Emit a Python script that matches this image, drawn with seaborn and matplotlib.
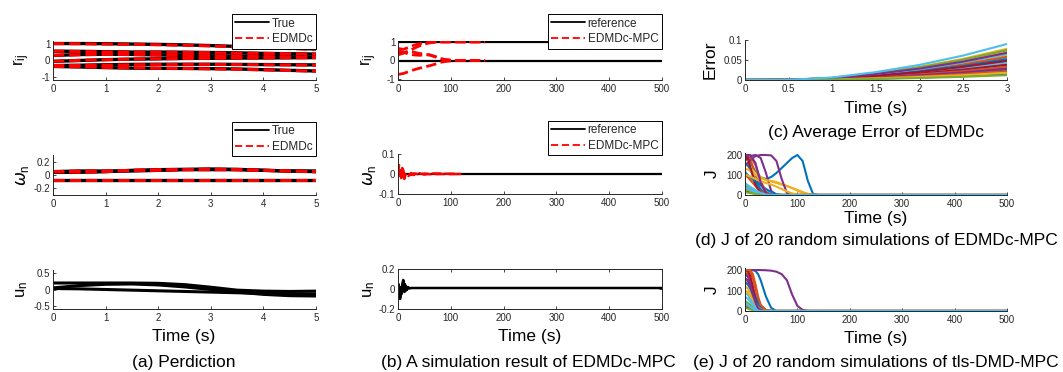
import pandas as pd
import seaborn as sns
import matplotlib.pyplot as plt
from matplotlib.lines import Line2D
from matplotlib.ticker import FormatStrFormatter

# ---------------- (a) prediction ----------------
a_time = [0, 0.5, 1, 1.5, 2, 2.5, 3, 3.5, 4, 4.5, 5]
r_true = [
    [1.0, 1.0, 0.99, 0.97, 0.95, 0.92, 0.88, 0.83, 0.78, 0.73, 0.68],
    [0.55, 0.54, 0.52, 0.5, 0.5, 0.49, 0.47, 0.45, 0.42, 0.4, 0.38],
    [0.3, 0.35, 0.37, 0.36, 0.33, 0.3, 0.28, 0.26, 0.24, 0.22, 0.2],
    [-0.05, 0.0, 0.05, 0.08, 0.1, 0.12, 0.13, 0.14, 0.15, 0.16, 0.17],
    [-0.3, -0.28, -0.25, -0.23, -0.22, -0.22, -0.22, -0.23, -0.24, -0.25, -0.26],
    [-0.35, -0.38, -0.42, -0.45, -0.46, -0.47, -0.48, -0.5, -0.54, -0.58, -0.62],
]
r_edmdc = [
    [1.0, 0.99, 0.97, 0.95, 0.93, 0.9, 0.86, 0.8, 0.76, 0.7, 0.66],
    [0.55, 0.53, 0.51, 0.5, 0.49, 0.48, 0.46, 0.44, 0.42, 0.4, 0.37],
    [0.3, 0.34, 0.36, 0.35, 0.32, 0.3, 0.28, 0.25, 0.23, 0.21, 0.19],
    [-0.05, 0.01, 0.05, 0.08, 0.1, 0.12, 0.13, 0.14, 0.15, 0.16, 0.17],
    [-0.3, -0.29, -0.27, -0.25, -0.24, -0.23, -0.23, -0.24, -0.25, -0.26, -0.27],
    [-0.35, -0.37, -0.41, -0.44, -0.46, -0.47, -0.49, -0.52, -0.55, -0.59, -0.62],
]
w_true = [
    [0.04, 0.04, 0.05, 0.07, 0.08, 0.085, 0.09, 0.085, 0.07, 0.06, 0.05],
    [0.05, 0.06, 0.06, 0.06, 0.07, 0.08, 0.08, 0.08, 0.07, 0.06, 0.06],
    [-0.07, -0.07, -0.07, -0.07, -0.07, -0.07, -0.07, -0.07, -0.07, -0.07, -0.07],
]
w_edmdc = [
    [0.05, 0.04, 0.05, 0.07, 0.08, 0.08, 0.09, 0.08, 0.07, 0.06, 0.05],
    [0.05, 0.06, 0.06, 0.07, 0.07, 0.08, 0.08, 0.08, 0.07, 0.06, 0.05],
    [-0.07, -0.07, -0.07, -0.07, -0.07, -0.07, -0.07, -0.07, -0.07, -0.07, -0.07],
]
u_pred = [
    [0.2, 0.2, 0.2, 0.2, 0.19, 0.15, 0.07, -0.02, -0.05, -0.06, -0.05],
    [0.05, 0.12, 0.16, 0.17, 0.14, 0.08, 0.0, -0.08, -0.15, -0.19, -0.2],
    [0.03, 0.02, 0.0, -0.02, -0.04, -0.06, -0.08, -0.1, -0.12, -0.13, -0.14],
]

# ---------------- (b) EDMDc-MPC simulation ----------------
b_ref_time = [0, 500]
r_ref = [[1, 1], [0, 0]]
w_ref = [[0, 0]]
b_r_time = [0, 10, 20, 30, 40, 50, 60, 70, 80, 90, 100, 110, 120, 140, 165]
r_mpc = [
    [0.65, 0.6, 0.7, 0.82, 0.9, 0.95, 0.98, 1.0, 1.0, 1.0, 1.0, 1.0, 1.0, 1.0, 1.0],
    [0.5, 0.4, 0.5, 0.65, 0.78, 0.88, 0.95, 0.98, 1.0, 1.0, 1.0, 1.0, 1.0, 1.0, 1.0],
    [0.3, 0.4, 0.5, 0.45, 0.38, 0.35, 0.3, 0.2, 0.1, 0.05, 0.02, 0.0, 0.0, 0.0, 0.0],
    [0.55, 0.45, 0.35, 0.3, 0.28, 0.3, 0.3, 0.22, 0.1, 0.04, 0.01, 0.0, 0.0, 0.0, 0.0],
    [-0.75, -0.7, -0.6, -0.5, -0.42, -0.35, -0.28, -0.2, -0.1, -0.05, -0.02, 0.0, 0.0, 0.0, 0.0],
]
b_w_time = [0, 2, 4, 6, 8, 10, 12, 15, 20, 25, 30, 40, 50, 60, 80, 100, 120]
w_mpc = [
    [0, 0.045, 0.02, -0.02, 0.03, -0.01, -0.025, 0.005, -0.01, 0.005, -0.005, 0.004, -0.003, 0.003, 0.002, 0.001, 0],
    [0, -0.01, 0.03, 0.01, -0.015, 0.02, -0.01, 0.0, 0.005, -0.005, 0.003, -0.002, 0.002, -0.001, 0, 0, 0],
]
b_u_time = [0, 1, 2, 3, 4, 5, 6, 7, 8, 9, 10, 11, 12, 13, 14, 15, 17, 19, 22, 25, 500]
u_mpc = [[0.0, 0.05, -0.06, -0.09, -0.1, -0.08, 0.02, -0.05, 0.05, 0.07, 0.09,
          0.06, -0.03, 0.05, -0.02, 0.03, -0.01, 0.02, 0.005, 0.01, 0.01]]

# ---------------- (c) average error ----------------
c_time = [0, 0.5, 1, 1.5, 2, 2.5, 3]
err_runs = [
    [0, 0.0002, 0.002, 0.007, 0.013, 0.020, 0.030],
    [0, 0.0002, 0.003, 0.010, 0.019, 0.031, 0.045],
    [0, 0.0003, 0.004, 0.014, 0.026, 0.042, 0.062],
    [0, 0.0002, 0.003, 0.009, 0.017, 0.027, 0.040],
    [0, 0.0001, 0.001, 0.004, 0.008, 0.013, 0.020],
    [0, 0.0003, 0.004, 0.012, 0.023, 0.037, 0.055],
    [0, 0.0004, 0.005, 0.016, 0.030, 0.049, 0.072],
    [0, 0.0001, 0.002, 0.006, 0.011, 0.017, 0.025],
    [0, 0.0003, 0.004, 0.013, 0.024, 0.039, 0.058],
    [0, 0.0004, 0.005, 0.017, 0.033, 0.053, 0.078],
    [0, 0.0003, 0.0035, 0.011, 0.021, 0.034, 0.050],
    [0, 0.0002, 0.0025, 0.008, 0.015, 0.024, 0.035],
    [0, 0.0002, 0.003, 0.0095, 0.018, 0.029, 0.043],
    [0, 0.0002, 0.0027, 0.0084, 0.016, 0.026, 0.038],
    [0, 0.0003, 0.0036, 0.0115, 0.022, 0.035, 0.052],
    [0, 0.0002, 0.0023, 0.0073, 0.014, 0.022, 0.033],
    [0, 0.0004, 0.0049, 0.0154, 0.029, 0.048, 0.070],
    [0, 0.0001, 0.002, 0.0062, 0.012, 0.019, 0.028],
    [0, 0.0004, 0.0052, 0.0165, 0.0315, 0.051, 0.075],
    [0, 0.0003, 0.0045, 0.0143, 0.027, 0.044, 0.065],
    [0, 0.0002, 0.0034, 0.0106, 0.020, 0.033, 0.048],
    [0, 0.0001, 0.001, 0.0033, 0.0063, 0.010, 0.015],
    [0, 0.0001, 0.0015, 0.0048, 0.0092, 0.015, 0.022],
    [0, 0.0001, 0.0013, 0.004, 0.0076, 0.012, 0.018],
    [0, 0.0003, 0.0048, 0.015, 0.0286, 0.046, 0.068],
    [0, 0.0, 0.0008, 0.0026, 0.005, 0.008, 0.012],
    [0, 0.0005, 0.0063, 0.0198, 0.0378, 0.0612, 0.090],
]

# ---------------- (d) J, EDMDc-MPC ----------------
d_time = [0, 5, 10, 20, 30, 40, 50, 60, 70, 80, 90, 100, 110, 120, 130, 140, 500]
J_edmdc = [
    [200, 190, 165, 115, 88, 80, 90, 110, 135, 160, 185, 200, 170, 70, 5, 0, 0],
    [200, 200, 180, 100, 30, 5, 0, 0, 0, 0, 0, 0, 0, 0, 0, 0, 0],
    [150, 145, 135, 110, 90, 75, 70, 65, 55, 45, 35, 25, 15, 6, 2, 0, 0],
    [170, 185, 195, 200, 185, 110, 20, 2, 0, 0, 0, 0, 0, 0, 0, 0, 0],
    [50, 40, 30, 15, 5, 0, 0, 0, 0, 0, 0, 0, 0, 0, 0, 0, 0],
    [120, 100, 85, 60, 40, 20, 5, 0, 0, 0, 0, 0, 0, 0, 0, 0, 0],
    [20, 15, 12, 8, 5, 2, 0, 0, 0, 0, 0, 0, 0, 0, 0, 0, 0],
    [160, 150, 130, 70, 25, 5, 0, 0, 0, 0, 0, 0, 0, 0, 0, 0, 0],
    [100, 90, 75, 45, 18, 3, 0, 0, 0, 0, 0, 0, 0, 0, 0, 0, 0],
    [130, 128, 120, 100, 85, 75, 68, 60, 52, 44, 35, 22, 10, 3, 0, 0, 0],
    [150, 160, 175, 195, 200, 200, 198, 170, 80, 10, 0, 0, 0, 0, 0, 0, 0],
    [30, 25, 20, 10, 3, 0, 0, 0, 0, 0, 0, 0, 0, 0, 0, 0, 0],
    [40, 32, 25, 15, 6, 0, 0, 0, 0, 0, 0, 0, 0, 0, 0, 0, 0],
    [200, 185, 140, 50, 8, 0, 0, 0, 0, 0, 0, 0, 0, 0, 0, 0, 0],
    [110, 100, 90, 70, 50, 30, 15, 3, 0, 0, 0, 0, 0, 0, 0, 0, 0],
    [200, 200, 195, 150, 70, 15, 0, 0, 0, 0, 0, 0, 0, 0, 0, 0, 0],
    [100, 98, 92, 80, 70, 60, 52, 42, 30, 18, 8, 2, 0, 0, 0, 0, 0],
    [200, 200, 200, 160, 60, 10, 0, 0, 0, 0, 0, 0, 0, 0, 0, 0, 0],
    [15, 12, 9, 5, 2, 0, 0, 0, 0, 0, 0, 0, 0, 0, 0, 0, 0],
    [60, 50, 40, 25, 10, 2, 0, 0, 0, 0, 0, 0, 0, 0, 0, 0, 0],
]

# ---------------- (e) J, tls-DMD-MPC ----------------
e_time = [0, 5, 10, 15, 20, 25, 30, 40, 50, 60, 70, 80, 90, 100, 110, 120, 500]
J_tls = [
    [200, 200, 200, 200, 195, 180, 150, 70, 15, 0, 0, 0, 0, 0, 0, 0, 0],
    [200, 200, 190, 160, 110, 60, 25, 3, 0, 0, 0, 0, 0, 0, 0, 0, 0],
    [150, 140, 120, 90, 60, 35, 15, 0, 0, 0, 0, 0, 0, 0, 0, 0, 0],
    [200, 200, 200, 200, 200, 200, 200, 199, 197, 192, 180, 150, 80, 25, 5, 0, 0],
    [30, 25, 20, 12, 6, 2, 0, 0, 0, 0, 0, 0, 0, 0, 0, 0, 0],
    [90, 80, 60, 40, 25, 12, 5, 0, 0, 0, 0, 0, 0, 0, 0, 0, 0],
    [20, 15, 10, 6, 3, 0, 0, 0, 0, 0, 0, 0, 0, 0, 0, 0, 0],
    [180, 170, 150, 110, 70, 40, 20, 5, 0, 0, 0, 0, 0, 0, 0, 0, 0],
    [190, 180, 150, 100, 55, 25, 10, 0, 0, 0, 0, 0, 0, 0, 0, 0, 0],
    [120, 110, 90, 65, 40, 20, 8, 0, 0, 0, 0, 0, 0, 0, 0, 0, 0],
    [180, 170, 140, 90, 45, 15, 5, 0, 0, 0, 0, 0, 0, 0, 0, 0, 0],
    [50, 40, 30, 18, 8, 3, 0, 0, 0, 0, 0, 0, 0, 0, 0, 0, 0],
    [70, 60, 45, 30, 18, 8, 3, 0, 0, 0, 0, 0, 0, 0, 0, 0, 0],
    [200, 195, 170, 120, 60, 20, 5, 0, 0, 0, 0, 0, 0, 0, 0, 0, 0],
    [140, 130, 110, 80, 50, 25, 10, 0, 0, 0, 0, 0, 0, 0, 0, 0, 0],
    [200, 200, 200, 180, 130, 70, 30, 5, 0, 0, 0, 0, 0, 0, 0, 0, 0],
    [100, 90, 75, 55, 35, 18, 8, 0, 0, 0, 0, 0, 0, 0, 0, 0, 0],
    [160, 150, 120, 80, 40, 15, 5, 0, 0, 0, 0, 0, 0, 0, 0, 0, 0],
    [15, 12, 8, 5, 2, 0, 0, 0, 0, 0, 0, 0, 0, 0, 0, 0, 0],
    [40, 30, 20, 12, 5, 2, 0, 0, 0, 0, 0, 0, 0, 0, 0, 0, 0],
]

matlab_colors = ['#0072BD', '#D95319', '#EDB120', '#7E2F8E', '#77AC30', '#4DBEEE', '#A2142F']

sns.set_theme(style='white')
plt.rcParams['font.family'] = ['Liberation Sans', 'DejaVu Sans']
plt.rcParams['axes.unicode_minus'] = False
plt.rcParams['xtick.direction'] = 'in'
plt.rcParams['ytick.direction'] = 'in'

W, H = 1063, 372
fig = plt.figure(figsize=(W / 100, H / 100), dpi=100)
fig.patch.set_facecolor('white')
axc = '#262626'


def to_long(time, runs):
    rows = []
    for k, vals in enumerate(runs):
        for t, v in zip(time, vals):
            rows.append(('run%02d' % k, t, v))
    return pd.DataFrame(rows, columns=['run', 't', 'y'])


def mono(ax, time, runs, color, **kw):
    sns.lineplot(data=to_long(time, runs), x='t', y='y', units='run', estimator=None,
                 color=color, ax=ax, legend=False, **kw)


def multi(ax, time, runs, lw=1.5):
    df = to_long(time, runs)
    order = list(dict.fromkeys(df['run']))
    pal = [matlab_colors[k % 7] for k in range(len(order))]
    sns.lineplot(data=df, x='t', y='y', hue='run', hue_order=order, palette=pal,
                 units='run', estimator=None, lw=lw, ax=ax, legend=False)


def make_ax(x0, y0, x1, y1, box=False):
    ax = fig.add_axes([x0 / W, 1 - y1 / H, (x1 - x0) / W, (y1 - y0) / H])
    for s in ['top', 'right']:
        ax.spines[s].set_visible(box)
    for s in ax.spines.values():
        s.set_color(axc)
        s.set_linewidth(0.7)
    ax.tick_params(labelsize=7, colors=axc, length=2.5, width=0.6, pad=3,
                   top=box, right=box, bottom=True, left=True)
    ax.tick_params(axis='y', pad=2)
    ax.set_xlabel('')
    ax.set_ylabel('')
    ax.yaxis.set_major_formatter(FormatStrFormatter('%g'))
    ax.xaxis.set_major_formatter(FormatStrFormatter('%g'))
    return ax


def finish(ax, xlim, xticks, ylim, yticks):
    ax.set_xlim(*xlim)
    ax.set_xticks(xticks)
    ax.set_ylim(*ylim)
    ax.set_yticks(yticks)
    ax.set_xlabel('')
    ax.set_ylabel('')


def legend(ax, labels, top):
    h = [Line2D([], [], color='black', lw=1.3),
         Line2D([], [], color='red', lw=1.3, ls='--', dashes=(4, 2))]
    lg = ax.legend(h, labels, loc='upper right', bbox_to_anchor=(1.0, top),
                   fontsize=8.5, frameon=True, fancybox=False, framealpha=1,
                   edgecolor='black', handlelength=2.9, handletextpad=0.2,
                   borderpad=0.3, labelspacing=0.3, borderaxespad=0)
    lg.get_frame().set_linewidth(0.7)


def ftext(x, y, s, **kw):
    fig.text(x / W, 1 - y / H, s, ha='center', va='center', color='black', **kw)


red_kw = dict(lw=2.2, linestyle='--', dashes=(3, 1.6))

# (a) row 1
ax = make_ax(53, 41, 316, 80)
mono(ax, a_time, r_true, 'black', lw=2.4)
mono(ax, a_time, r_edmdc, 'red', **red_kw)
finish(ax, (0, 5), [0, 1, 2, 3, 4, 5], (-1.15, 1.15), [-1, 0, 1])
legend(ax, ['True', 'EDMDc'], 1.69)

# (a) row 2
ax = make_ax(53, 155, 316, 195)
mono(ax, a_time, w_true, 'black', lw=2.4)
mono(ax, a_time, w_edmdc, 'red', **red_kw)
finish(ax, (0, 5), [0, 1, 2, 3, 4, 5], (-0.3, 0.3), [-0.2, 0, 0.2])
legend(ax, ['True', 'EDMDc'], 1.83)

# (a) row 3
ax = make_ax(53, 270, 316, 309)
mono(ax, a_time, u_pred, 'black', lw=2.2)
finish(ax, (0, 5), [0, 1, 2, 3, 4, 5], (-0.6, 0.6), [-0.5, 0, 0.5])

# (b) row 1
ax = make_ax(398, 41, 662, 80)
mono(ax, b_ref_time, r_ref, 'black', lw=1.6)
mono(ax, b_r_time, r_mpc, 'red', lw=2.0, linestyle='--', dashes=(3, 1.6))
finish(ax, (0, 500), [0, 100, 200, 300, 400, 500], (-1.05, 1.05), [-1, 0, 1])
legend(ax, ['reference', 'EDMDc-MPC'], 1.69)

# (b) row 2
ax = make_ax(398, 154, 662, 194)
mono(ax, b_ref_time, w_ref, 'black', lw=1.6)
mono(ax, b_w_time, w_mpc, 'red', lw=1.8, linestyle='--', dashes=(3, 1.6))
finish(ax, (0, 500), [0, 100, 200, 300, 400, 500], (-0.1, 0.1), [-0.1, 0, 0.1])
legend(ax, ['reference', 'EDMDc-MPC'], 1.83)

# (b) row 3
ax = make_ax(398, 269, 662, 309, box=True)
mono(ax, b_u_time, u_mpc, 'black', lw=1.8)
finish(ax, (0, 500), [0, 100, 200, 300, 400, 500], (-0.2, 0.2), [-0.2, 0, 0.2])

# (c)
ax = make_ax(745, 40, 1007, 80)
multi(ax, c_time, err_runs, lw=1.5)
finish(ax, (0, 3), [0, 0.5, 1, 1.5, 2, 2.5, 3], (0, 0.1), [0, 0.05, 0.1])

# (d)
ax = make_ax(745, 153, 1007, 195)
multi(ax, d_time, J_edmdc, lw=1.5)
finish(ax, (0, 500), [0, 100, 200, 300, 400, 500], (0, 210), [0, 100, 200])

# (e)
ax = make_ax(745, 268, 1007, 311)
multi(ax, e_time, J_tls, lw=1.5)
finish(ax, (0, 500), [0, 100, 200, 300, 400, 500], (0, 210), [0, 100, 200])

# y labels
for x in (22, 369):
    ftext(x, 60, r'$\mathregular{r_{ij}}$', rotation=90, fontsize=12)
    ftext(x, 175, r'$\omega_\mathregular{n}$', rotation=90, fontsize=12)
    ftext(x, 289, r'$\mathregular{u_n}$', rotation=90, fontsize=12)
ftext(710, 60, 'Error', rotation=90, fontsize=12.5)
ftext(712, 174, 'J', rotation=90, fontsize=12.5)
ftext(712, 290, 'J', rotation=90, fontsize=12.5)

# x labels and captions
for x, y in [(184, 337), (530, 337), (876, 108), (876, 218), (876, 338)]:
    ftext(x, y, 'Time (s)', fontsize=12.5)
ftext(184, 362, '(a) Perdiction', fontsize=12.5)
ftext(528, 362, '(b) A simulation result of EDMDc-MPC', fontsize=12.5)
ftext(876, 133, '(c) Average Error of EDMDc', fontsize=12.5)
ftext(876, 240, '(d) J of 20 random simulations of EDMDc-MPC', fontsize=12.5)
ftext(876, 362, '(e) J of 20 random simulations of tls-DMD-MPC', fontsize=12.5)

fig.savefig('out.png', dpi=100, facecolor='white')
